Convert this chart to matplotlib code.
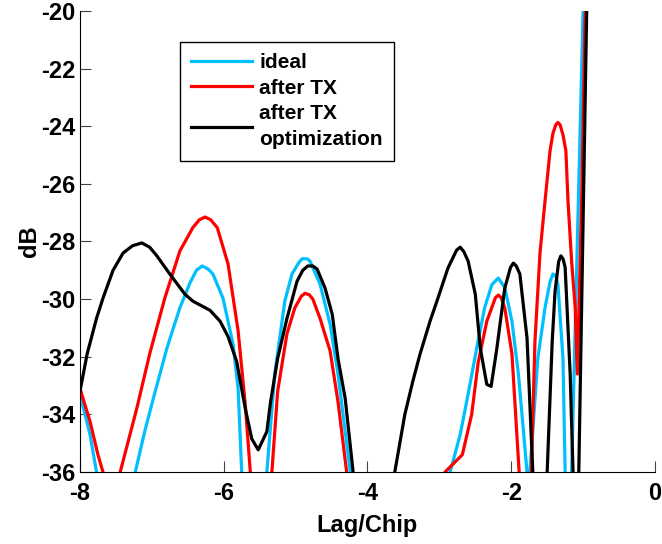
import numpy as np
import matplotlib
matplotlib.use("Agg")
import matplotlib.pyplot as plt

plt.rcParams["font.family"] = ["Liberation Sans", "DejaVu Sans"]
plt.rcParams["font.weight"] = "bold"
plt.rcParams["axes.unicode_minus"] = False

# --- data (Lag/Chip vs dB) ---
ideal_x = [-8.00, -7.93, -7.86, -7.77, -7.50,
           -7.23, -7.10, -6.98, -6.79, -6.61, -6.47, -6.38, -6.30, -6.22, -6.15, -6.01, -5.87, -5.80, -5.75, -5.58,
           -5.40, -5.29, -5.15, -5.05, -4.96, -4.91, -4.84, -4.80, -4.66, -4.52, -4.41, -4.24, -3.55,
           -2.85, -2.71, -2.60, -2.48, -2.37, -2.27, -2.18, -2.09, -1.99, -1.90, -1.78, -1.76,
           -1.74, -1.63, -1.53, -1.46, -1.42, -1.38, -1.35, -1.28, -1.25, -1.20,
           -1.16, -1.08, -1.00, -0.98]
ideal_y = [-33.3, -34.0, -34.7, -36.0, -45.0,
           -36.0, -34.6, -33.45, -31.7, -30.3, -29.44, -29.0, -28.85, -28.95, -29.13, -29.97, -31.57, -33.1, -36.0, -45.0,
           -36.0, -32.6, -30.07, -29.13, -28.75, -28.6, -28.6, -28.68, -29.48, -30.87, -32.6, -36.0, -45.0,
           -36.0, -34.7, -33.3, -31.7, -30.3, -29.5, -29.27, -29.6, -30.77, -32.6, -36.0, -40.0,
           -36.0, -32.06, -30.3, -29.4, -29.13, -29.2, -29.5, -32.06, -36.0, -42.0,
           -36.0, -28.0, -20.0, -18.0]

tx_x = [-8.00, -7.86, -7.75, -7.68, -7.56,
        -7.44, -7.21, -7.03, -6.82, -6.61, -6.43, -6.34, -6.26, -6.18, -6.09, -5.94, -5.80, -5.70, -5.63, -5.48,
        -5.33, -5.25, -5.12, -5.01, -4.92, -4.87, -4.81, -4.76, -4.66, -4.52, -4.41, -4.29, -3.60,
        -2.92, -2.68, -2.55, -2.46, -2.34, -2.22, -2.18, -2.14, -2.09, -1.99, -1.89, -1.80,
        -1.72, -1.67, -1.60, -1.53, -1.46, -1.42, -1.38, -1.35, -1.32, -1.28, -1.24, -1.21, -1.16, -1.11, -1.08,
        -1.02, -0.97, -0.95]
tx_y = [-33.1, -34.25, -35.4, -36.0, -45.0,
        -36.0, -33.8, -31.9, -29.97, -28.33, -27.52, -27.25, -27.15, -27.25, -27.52, -28.78, -31.1, -33.66, -36.0, -45.0,
        -36.0, -33.2, -31.2, -30.3, -29.9, -29.8, -29.85, -30.0, -30.67, -31.8, -33.56, -36.0, -45.0,
        -36.0, -35.4, -34.0, -32.2, -30.77, -29.95, -29.86, -29.95, -30.3, -31.9, -36.0, -42.0,
        -36.0, -31.47, -28.4, -26.6, -24.85, -24.25, -23.95, -23.87, -23.95, -24.3, -24.85, -26.6, -28.68, -30.3, -32.6,
        -26.5, -20.0, -18.0]

opt_x = [-8.00, -7.90, -7.77, -7.68, -7.54, -7.40, -7.27, -7.14, -7.03, -6.93, -6.75, -6.54, -6.43, -6.19, -6.05,
         -5.94, -5.82, -5.70, -5.61, -5.52, -5.40, -5.35, -5.25, -5.12, -4.98, -4.90, -4.83, -4.76, -4.70, -4.59,
         -4.49, -4.41, -4.31, -4.20, -3.90,
         -3.62, -3.48, -3.37, -3.27, -3.13, -3.02, -2.88, -2.76, -2.71, -2.66, -2.60, -2.50, -2.43, -2.34, -2.28,
         -2.20, -2.09, -2.01, -1.97, -1.93, -1.88, -1.78, -1.70, -1.60,
         -1.50, -1.43, -1.39, -1.34, -1.31, -1.28, -1.25, -1.18, -1.14, -1.10,
         -1.06, -0.95, -0.93]
opt_y = [-33.2, -31.9, -30.67, -29.97, -29.0, -28.4, -28.15, -28.05, -28.2, -28.5, -29.13, -29.83, -30.07, -30.39, -30.77,
         -31.3, -32.16, -33.8, -34.85, -35.23, -34.6, -33.6, -32.06, -30.67, -29.38, -29.0, -28.85, -28.85, -28.96, -29.62,
         -30.53, -32.06, -33.45, -36.0, -45.0,
         -36.0, -34.0, -32.86, -31.92, -30.77, -29.97, -28.92, -28.3, -28.2, -28.35, -28.68, -29.83, -31.71, -32.96, -33.03,
         -31.71, -29.62, -28.9, -28.75, -28.85, -29.13, -31.36, -36.0, -42.0,
         -36.0, -31.47, -29.72, -28.7, -28.5, -28.6, -28.9, -32.6, -36.0, -42.0,
         -36.0, -20.0, -18.0]

x_ticks = [-8, -6, -4, -2, 0]
y_ticks = [-36, -34, -32, -30, -28, -26, -24, -22, -20]

fig = plt.figure(figsize=(6.62, 5.44), dpi=100)
ax = fig.add_axes([0.1208, 0.1324, 0.8686, 0.8474])

ax.plot(ideal_x, ideal_y, color="#00BFFF", lw=2.3, label="ideal")
ax.plot(tx_x, tx_y, color="#FF0000", lw=2.3, label="after TX")
ax.plot(opt_x, opt_y, color="black", lw=2.3, label="after TX\noptimization")

ax.set_xlim(-8, 0)
ax.set_ylim(-36, -20)
ax.set_xticks(x_ticks)
ax.set_yticks(y_ticks)
ax.spines["top"].set_visible(False)
ax.spines["right"].set_visible(False)
ax.tick_params(direction="in", length=8, width=0.8, labelsize=17, color="#444444")
ax.tick_params(axis="x", pad=7)
ax.tick_params(axis="y", pad=3)
for lab in ax.get_xticklabels() + ax.get_yticklabels():
    lab.set_fontweight("bold")

ax.set_xlabel("Lag/Chip", fontsize=17, fontweight="bold", labelpad=7)
ax.set_ylabel("dB", fontsize=17, fontweight="bold", labelpad=0)

leg = ax.legend(loc="upper left", bbox_to_anchor=(0.174, 0.933), borderaxespad=0,
                fancybox=False, edgecolor="black", framealpha=1,
                handlelength=2.9, handletextpad=0.35, labelspacing=0.3, borderpad=0.55,
                prop={"weight": "bold", "size": 15})
leg.get_frame().set_linewidth(1.0)
for t in leg.get_texts():
    t.set_linespacing(1.5)

fig.savefig("out.png", dpi=100)
